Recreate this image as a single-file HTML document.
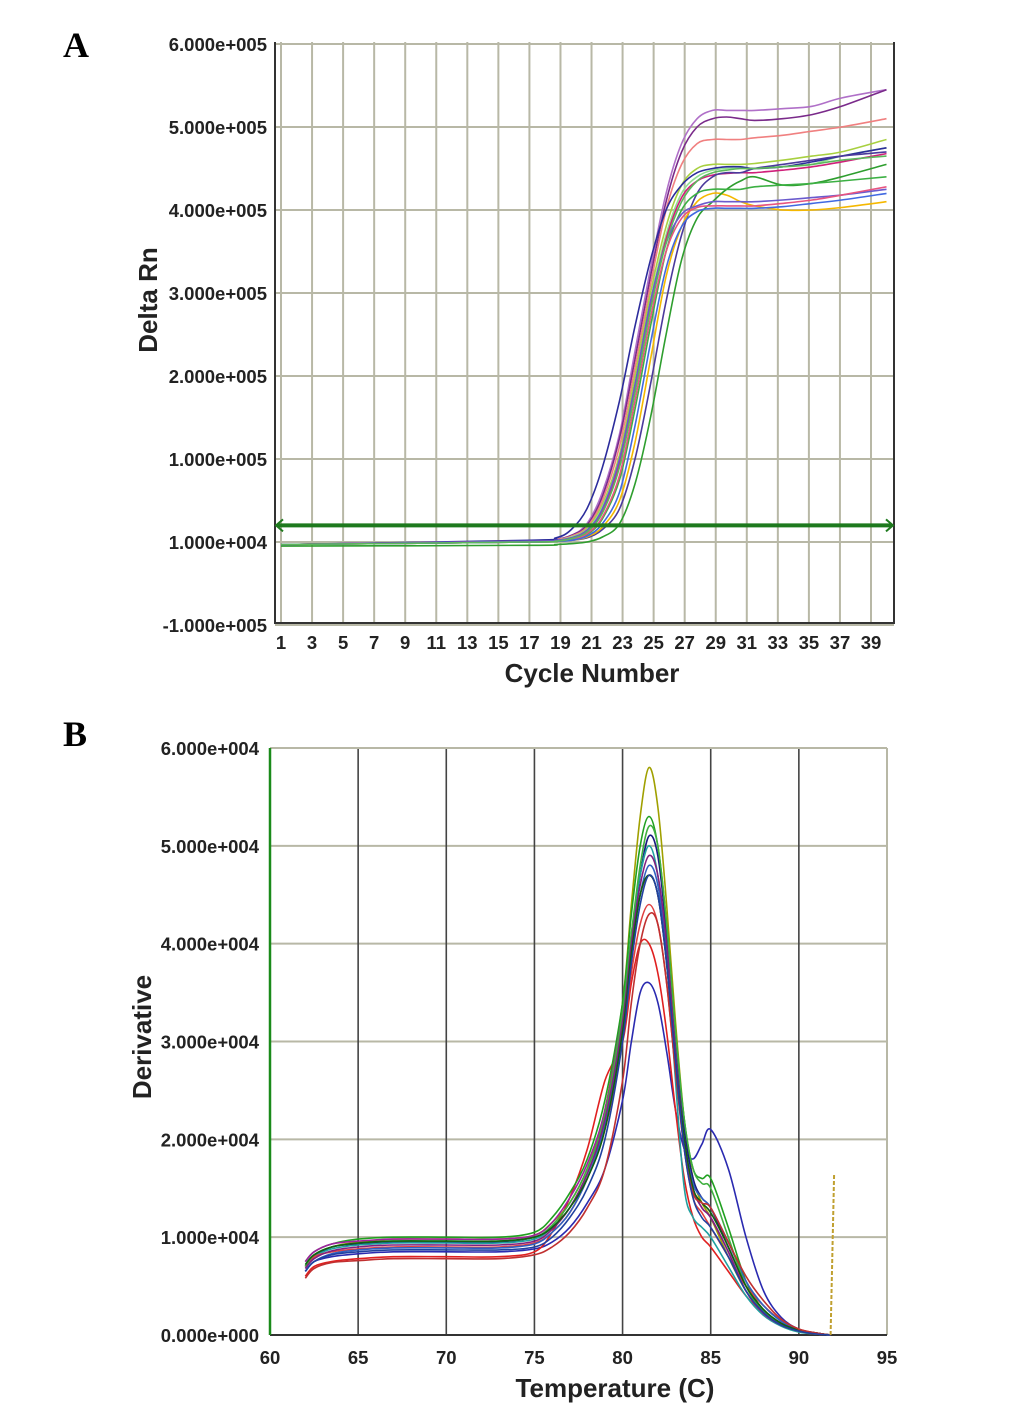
<!DOCTYPE html>
<html><head><meta charset="utf-8"><style>
html,body{margin:0;padding:0;background:#fff;}
svg{display:block;font-family:"Liberation Sans",Arial,sans-serif;}
.tk{font-size:18.5px;font-weight:bold;fill:#222;}
.ttl{font-size:26px;font-weight:bold;fill:#222;}
</style></head><body>
<svg id="fig" width="1033" height="1408" viewBox="0 0 1033 1408">
<text x="63" y="57" font-family="Liberation Serif,serif" font-weight="bold" font-size="36">A</text>
<text x="63" y="746" font-family="Liberation Serif,serif" font-weight="bold" font-size="36">B</text>
<g id="pa"></g>
<g id="pb"></g>
<text class="ttl" x="592" y="682" text-anchor="middle">Cycle Number</text>
<text class="ttl" transform="translate(157,300) rotate(-90)" text-anchor="middle">Delta Rn</text>
<text class="ttl" x="615" y="1397" text-anchor="middle">Temperature (C)</text>
<text class="ttl" transform="translate(151,1037) rotate(-90)" text-anchor="middle">Derivative</text>
</svg>
<script>
// ---------- Panel A data (Delta Rn in thousands) ----------
const cycles = [1,17,18.7,19.7,20.7,21.7,22.8,23.8,24.8,25.8,26.8,27.8,28.8,29.7,30.6,31.5,33.3,35.2,37.1,40];
const aTickValues = [600,500,400,300,200,100,0,-100];
const aTickLabels = ["6.000e+005","5.000e+005","4.000e+005","3.000e+005","2.000e+005","1.000e+005","1.000e+004","-1.000e+005"];
const aXTicks = [1,3,5,7,9,11,13,15,17,19,21,23,25,27,29,31,33,35,37,39];
const threshold = 20;
const aColors = ["#b070c8","#7a2a8a","#f08080","#a8d040","#90e090","#2c2c9c","#d0207a","#4b3a9c","#f5b800","#2e9e2e","#3cb043","#6a5acd","#e75480","#4169e1","#5cb85c"];
const aNavy   = [-3,2,5,15,40,90,170,260,340,400,430,445,450,452,452,450,452,458,465,475];
const aTop1   = [-3,1,3,8,22,60,130,230,330,420,480,510,520,520,520,520,522,525,535,545];
const aTop2   = [-3,1,3,8,20,55,125,220,320,410,470,500,510,512,510,508,510,515,525,545];
const aSalmon = [-3,1,3,7,18,50,115,210,310,400,455,480,485,485,485,487,490,495,500,510];
const aLime   = [-3,1,2,6,16,45,105,200,300,380,430,450,455,455,455,456,460,465,470,485];
const aLtGrn  = [-3,1,2,6,15,42,100,190,290,370,420,440,448,450,450,450,452,455,465,475];
const aMagent = [-3,1,2,5,14,38,95,185,285,365,415,435,442,444,445,445,448,452,458,468];
const aPurLt  = [-3,0,1,2,5,15,40,100,190,290,370,420,440,445,445,450,455,460,465,470];
const aYellow = [-3,0,1,2,6,18,50,120,220,320,380,410,420,418,410,405,400,400,403,410];
const aGrnLt  = [-5,-4,-3,-2,0,6,22,70,150,250,340,390,410,425,435,440,430,432,440,455];
const aGrn2   = [-3,0,1,3,9,28,75,160,260,350,400,420,425,425,425,428,430,432,435,440];
const aViol2  = [-3,1,2,5,14,40,100,190,290,360,395,405,410,410,410,410,412,415,418,425];
const aPink2  = [-3,0,1,3,10,30,80,170,270,350,390,403,405,405,405,405,408,412,418,428];
const aBlue2  = [-3,0,1,2,7,22,60,140,240,330,380,398,402,402,402,402,404,408,412,420];
const aGrn3   = [-3,0,1,4,12,35,90,180,280,360,410,435,445,448,450,450,452,455,460,465];
const aSeries = [aTop1,aTop2,aSalmon,aLime,aLtGrn,aNavy,aMagent,aPurLt,aYellow,aGrnLt,aGrn2,aViol2,aPink2,aBlue2,aGrn3];

// ---------- Panel B data (derivative in thousands) ----------
const temps = [62,62.5,63.5,65,67,70,73,75,76,77,78,79,80,80.5,81,81.5,82,82.5,83,83.5,84,84.5,85,86,87,88,89,90,91,91.8];
const bTickValues = [60,50,40,30,20,10,0];
const bTickLabels = ["6.000e+004","5.000e+004","4.000e+004","3.000e+004","2.000e+004","1.000e+004","0.000e+000"];
const bXTicks = [60,65,70,75,80,85,90,95];
const bColors = ["#a0a000","#2a2ab0","#e02020","#20a020","#1a1a80","#20a0a0","#a020a0","#e04040","#3060c0","#40b040","#802080","#106010","#c03030","#2040a0"];
const bOlive = [7,8,9,9.5,9.8,9.8,9.8,10.2,11.5,13.5,17,23,34,44,53,58,54,44,32,22,16,13.5,12,8,4.5,2.5,1.2,0.5,0.2,0];
const bBlue  = [6.5,7.5,8,8.3,8.5,8.5,8.5,8.8,9.5,11,13.5,17,24,30,35,36,34,29,23,19,18,19.5,21,17,10,4.5,1.8,0.6,0.2,0];
const bRedE  = [6,7,7.5,7.8,8,8,8,8.5,10.5,14,19,26,30,36,40,40,37,31,23,16,12,10,9,6.5,4,2.2,1,0.4,0.1,0];
const bGreen = [7.5,8.5,9.3,9.8,10,10,10,10.5,12,14.5,18,24,34,43,50,53,50,42,31,22,17,16,16,11,5.5,2.5,1,0.4,0.1,0];
const bNavy  = [7,8,9,9.3,9.5,9.5,9.5,10,11,13,16.5,22,32,40,47,51,49,41,30,21,16,14,13,9,5,2.5,1.2,0.5,0.2,0];
const bTeal  = [7,8,8.8,9.2,9.4,9.4,9.4,9.8,11,13,16.5,22,33,41,47,50,47,39,26,15,12,11,10,7,4,2,0.9,0.3,0.1,0];
const bPurp  = [7.5,8.5,9.3,9.6,9.8,9.8,9.8,10.2,11.5,14,17.5,23,33,40,45,47,45,38,28,20,15,13,12,8.5,4.5,2.2,1,0.4,0.1,0];
const bRed2  = [7,8,8.5,8.8,9,9,9,9.4,10.5,12.5,16,21,30,37,42,44,42,36,27,19,14,12.5,11,8,5,3,1.5,0.6,0.2,0];
const bBlue3 = [6.5,7.5,8.3,8.7,8.9,8.9,8.9,9.3,10.5,12.5,16,21.5,31,39,45,48,46,39,29,20,15.5,14,13,9.5,5.5,3,1.4,0.5,0.2,0];
const bGrn2  = [7,8.2,9,9.4,9.6,9.6,9.6,10,11.2,13.5,17,22.5,33,41,48,52,50,42,31,22,17,15.5,15,10,5,2.5,1,0.4,0.1,0];
const bPur2  = [6.8,7.8,8.6,9,9.2,9.2,9.2,9.6,10.8,13,16.5,22,32,40,46,49,47,40,29,20,15,13,12,8.5,4.5,2.2,1,0.4,0.1,0];
const bGrn3  = [7.2,8.2,9,9.4,9.6,9.6,9.6,10,11,13,16,21,31,39,45,47,45,38,28,20,15,13.5,12.5,9,5,2.6,1.2,0.5,0.2,0];
const bRed3  = [5.8,6.8,7.4,7.6,7.8,7.8,7.8,8.2,9,10.5,13,17,26,34,40,43,42,36,27,19,14.5,13.5,13,9.5,6,3.5,1.6,0.6,0.2,0];
const bBlue4 = [6.5,7.5,8.2,8.5,8.7,8.7,8.7,9,10,12,15,20,30,38,44,47,45,38,28,19,14,12,11,8,4.5,2.3,1,0.4,0.1,0];
const bSeries = [bOlive,bBlue,bRedE,bGreen,bNavy,bTeal,bPurp,bRed2,bBlue3,bGrn2,bPur2,bGrn3,bRed3,bBlue4];
const spikeT = [91.8,92];
const spikeV = [0,16.5];

const NS="http://www.w3.org/2000/svg";
function mk(tag,attrs,parent){const e=document.createElementNS(NS,tag);for(const k in attrs)e.setAttribute(k,attrs[k]);parent.appendChild(e);return e;}
function smooth(pts){let d="M"+pts[0][0].toFixed(1)+","+pts[0][1].toFixed(1);
 for(let i=0;i<pts.length-1;i++){const p0=pts[Math.max(0,i-1)],p1=pts[i],p2=pts[i+1],p3=pts[Math.min(pts.length-1,i+2)];
  const c1=[p1[0]+(p2[0]-p0[0])/6,p1[1]+(p2[1]-p0[1])/6],c2=[p2[0]-(p3[0]-p1[0])/6,p2[1]-(p3[1]-p1[1])/6];
  d+=" C"+c1[0].toFixed(1)+","+c1[1].toFixed(1)+" "+c2[0].toFixed(1)+","+c2[1].toFixed(1)+" "+p2[0].toFixed(1)+","+p2[1].toFixed(1);}
 return d;}

// ---------- Panel A ----------
(function(){
const g=document.getElementById('pa');
const L=275,R=894,T=42,B=623;
const ax=c=>281+(c-1)*(871-281)/38;
const ay=v=>542-v*0.83;
for(const c of aXTicks){const gl=mk('line',{x1:ax(c),x2:ax(c),y1:T,y2:B,stroke:'#b8b8a6','stroke-width':2},g);
 
 
 const t=mk('text',{x:ax(c),y:649,'text-anchor':'middle',class:'tk'},g);t.textContent=c;
 
 }
aTickValues.forEach((v,i)=>{const gl=mk('line',{x1:L,x2:R,y1:ay(v),y2:ay(v),stroke:'#b8b8a6','stroke-width':2},g);
 
 
 const t=mk('text',{x:267,y:ay(v)+7,'text-anchor':'end',class:'tk'},g);t.textContent=aTickLabels[i];
 
 });
const fr=mk('path',{d:`M${L},${T} V${B} H${R} V${T}`,fill:'none',stroke:'#333','stroke-width':2},g);


aSeries.forEach((s,i)=>{const p=mk('path',{d:smooth(s.map((v,j)=>[ax(Math.min(cycles[j],40)),ay(v)])),fill:'none',stroke:aColors[i],'stroke-width':1.6},g);
 
 });
const ty=ay(threshold);
const th=mk('line',{x1:L+2,x2:R-2,y1:ty,y2:ty,stroke:'#1e7a1e','stroke-width':4},g);


mk('path',{d:`M${L+8},${ty-6} L${L+1},${ty} L${L+8},${ty+6}`,fill:'none',stroke:'#1e7a1e','stroke-width':2},g);
mk('path',{d:`M${R-8},${ty-6} L${R-1},${ty} L${R-8},${ty+6}`,fill:'none',stroke:'#1e7a1e','stroke-width':2},g);
})();

// ---------- Panel B ----------
(function(){
const g=document.getElementById('pb');
const L=270,R=887,T=748,B=1335;
const bx=t=>L+(t-60)*(R-L)/35;
const by=v=>B-v*(B-T)/60;
bTickValues.forEach((v,i)=>{if(v>0&&v<60){const gl=mk('line',{x1:L,x2:R,y1:by(v),y2:by(v),stroke:'#b8b8a6','stroke-width':2},g);
 
 }
 const t=mk('text',{x:259,y:by(v)+7,'text-anchor':'end',class:'tk'},g);t.textContent=bTickLabels[i];
 
 });
for(const x of bXTicks){if(x>60&&x<95){const gl=mk('line',{x1:bx(x),x2:bx(x),y1:T,y2:B,stroke:'#444','stroke-width':1.6},g);
 
 }
 const t=mk('text',{x:bx(x),y:1364,'text-anchor':'middle',class:'tk'},g);t.textContent=x;
 
 }
mk('line',{x1:L,x2:R,y1:T,y2:T,stroke:'#b8b8a6','stroke-width':2},g);
mk('line',{x1:R,x2:R,y1:T,y2:B,stroke:'#b8b8a6','stroke-width':2},g);
mk('line',{x1:L,x2:R,y1:B,y2:B,stroke:'#333','stroke-width':2},g);
mk('line',{x1:L,x2:L,y1:T,y2:B,stroke:'#1a8a1a','stroke-width':2.5},g);
bSeries.forEach((s,i)=>{const p=mk('path',{d:smooth(s.map((v,j)=>[bx(temps[j]),by(v)])),fill:'none',stroke:bColors[i],'stroke-width':1.6},g);
 
 });
const sp=mk('path',{d:`M${bx(spikeT[0])},${by(spikeV[0])} L${bx(spikeT[1])},${by(spikeV[1])}`,fill:'none',stroke:'#c0a030','stroke-width':2,'stroke-dasharray':'4,2'},g);


})();
</script>
</body></html>
